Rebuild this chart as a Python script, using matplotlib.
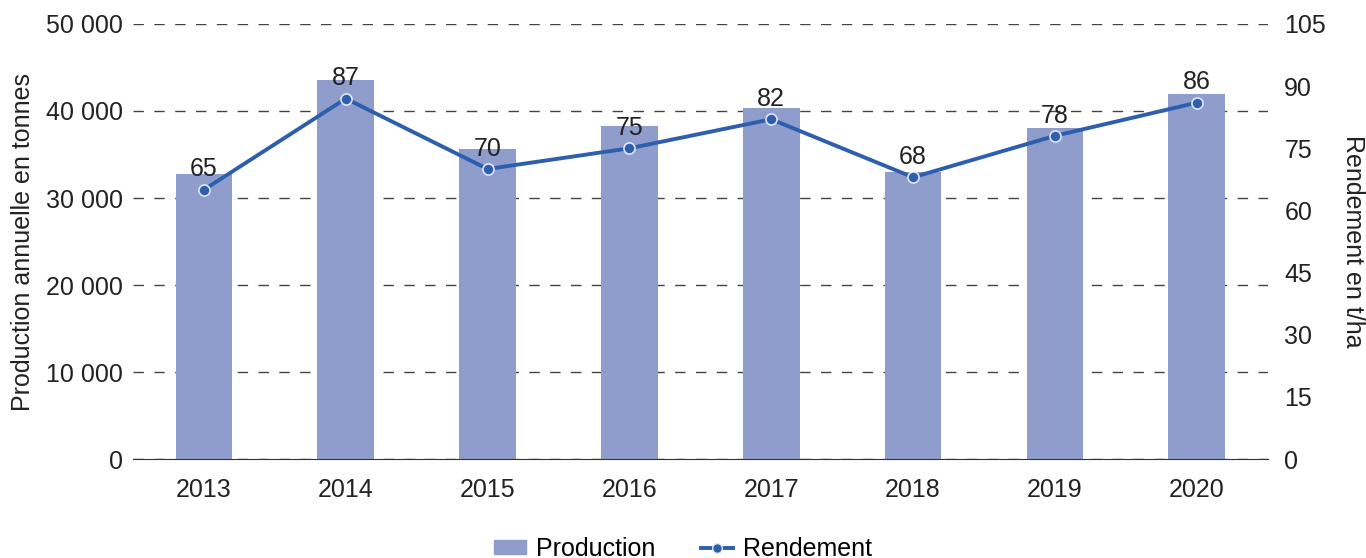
import matplotlib.pyplot as plt
from matplotlib.lines import Line2D
from matplotlib.patches import Patch
import numpy as np

plt.rcParams["font.family"] = ["Liberation Sans", "DejaVu Sans"]

# ---- data -----------------------------------------------------------------
years = ["2013", "2014", "2015", "2016", "2017", "2018", "2019", "2020"]
production = [32800, 43600, 35600, 38300, 40300, 33000, 38000, 42000]
rendement = [65, 87, 70, 75, 82, 68, 78, 86]

BAR = "#8e9dcc"
LINE = "#2e5fad"
INK = "#222222"
FS = 18

fig = plt.figure(figsize=(13.66, 5.58), dpi=100)
ax = fig.add_axes([0.0974, 0.1774, 0.8306, 0.7796])
x = np.arange(len(years))

ax.bar(x, production, width=0.4, color=BAR, zorder=2)
ax.set_xlim(-0.5, 7.5)
ax.set_ylim(0, 50000)
ax.set_yticks(range(0, 50001, 10000))
ax.set_yticklabels([f"{v:,}".replace(",", " ") for v in range(0, 50001, 10000)])
ax.set_xticks(x)
ax.set_xticklabels(years)
ax.yaxis.grid(True, ls=(0, (7.5, 7.5)), color="#444444", lw=1.0, zorder=0)
ax.set_axisbelow(True)
for s in ["top", "left", "right"]:
    ax.spines[s].set_visible(False)
ax.spines["bottom"].set_color("#333333")
ax.tick_params(length=0, labelsize=FS, colors=INK, pad=7)
ax.tick_params(axis="x", pad=14)
ax.set_ylabel("Production annuelle en tonnes", fontsize=FS, color=INK, labelpad=8)

ax2 = ax.twinx()
ax2.set_ylim(0, 105)
ax2.set_yticks(range(0, 106, 15))
ax2.plot(x, rendement, color=LINE, lw=2.8, marker="o", ms=8,
         mfc=LINE, mec="#dfe6f2", mew=1.2, zorder=3)
for xi, v in zip(x, rendement):
    ax2.annotate(str(v), (xi, v), xytext=(0, 6), textcoords="offset points",
                 ha="center", va="bottom", fontsize=FS, color=INK)
for s in ["top", "left", "right", "bottom"]:
    ax2.spines[s].set_visible(False)
ax2.tick_params(length=0, labelsize=FS, colors=INK, pad=12)
ax2.set_ylabel("Rendement en t/ha", fontsize=FS, color=INK, rotation=270,
               labelpad=28)

handles = [Patch(color=BAR, label="Production"),
           Line2D([0], [0], color=LINE, lw=2.8, marker="o", ms=7,
                  mfc=LINE, mec="#dfe6f2", label="Rendement")]
fig.legend(handles=handles, loc="lower center", bbox_to_anchor=(0.5, -0.045),
           ncol=2, frameon=False, fontsize=FS, handlelength=1.3,
           handletextpad=0.4, columnspacing=1.8, handleheight=0.5)

fig.savefig("out.png", dpi=100, facecolor="white")
